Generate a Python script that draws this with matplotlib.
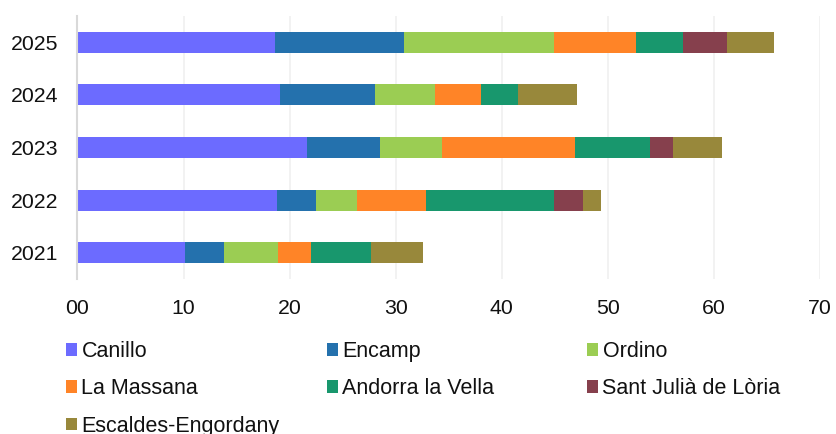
import numpy as np
import matplotlib.pyplot as plt
from matplotlib.patches import Patch

plt.rcParams['font.family'] = ['Liberation Sans', 'DejaVu Sans']

years = ['2021', '2022', '2023', '2024', '2025']
parishes = ['Canillo', 'Encamp', 'Ordino', 'La Massana', 'Andorra la Vella',
            'Sant Julià de Lòria', 'Escaldes-Engordany']
colors = ['#6C6BFF', '#2471AD', '#9BCD53', '#FF8427', '#18976D', '#86404D', '#98883B']

# values per parish, one per year (2021..2025)
canillo = [10.1, 18.8, 21.65, 19.1, 18.6]
encamp = [3.7, 3.7, 6.9, 9.0, 12.2]
ordino = [5.15, 3.9, 5.8, 5.6, 14.1]
la_massana = [3.05, 6.5, 12.55, 4.4, 7.8]
andorra = [5.7, 12.0, 7.1, 3.4, 4.4]
sant_julia = [0.0, 2.8, 2.2, 0.0, 4.2]
escaldes = [4.9, 1.7, 4.6, 5.6, 4.4]
series = [canillo, encamp, ordino, la_massana, andorra, sant_julia, escaldes]

fig = plt.figure(figsize=(8.37, 4.34), dpi=100)
ax = fig.add_axes([77.5 / 837, 1 - 279 / 434, (819.7 - 77.5) / 837, (279 - 16) / 434])

y = np.arange(len(years))
left = np.zeros(len(years))
handles = []
for name, vals, c in zip(parishes, series, colors):
    vals = np.array(vals)
    ax.barh(y, vals, left=left, height=0.4, color=c, label=name)
    left += vals
    handles.append(Patch(facecolor=c, label=name))

ax.set_xlim(0, 70)
ax.set_ylim(-0.5, 4.5)
ax.set_yticks(y)
ax.set_yticklabels(years)
ax.set_xticks(np.arange(0, 71, 10))
ax.set_xticklabels([f"{v:02d}" for v in range(0, 71, 10)])
ax.tick_params(axis='both', length=0, labelsize=15.3, colors='#111111')
ax.tick_params(axis='y', pad=14)
ax.tick_params(axis='x', pad=14.5)
ax.grid(axis='x', color='#f0f0f0', linewidth=1.2)
ax.set_axisbelow(True)
for s in ['top', 'right', 'bottom']:
    ax.spines[s].set_visible(False)
ax.spines['left'].set_color('#d9d9d9')
ax.spines['left'].set_linewidth(1.5)

# legend laid out row by row in three equal columns
col_x = [66 / 837, 327 / 837, 587 / 837]
cols = [[0, 3, 6], [1, 4], [2, 5]]
for cx, idx in zip(col_x, cols):
    leg = fig.legend(handles=[handles[i] for i in idx], loc='upper left',
                     bbox_to_anchor=(cx, 1 - 341 / 434), frameon=False,
                     fontsize=15.5, handlelength=0.52, handleheight=0.52,
                     handletextpad=0.2, labelspacing=0.76, borderpad=0,
                     borderaxespad=0)
    for t in leg.get_texts():
        t.set_color('#111111')

fig.savefig('out.png', dpi=100)
